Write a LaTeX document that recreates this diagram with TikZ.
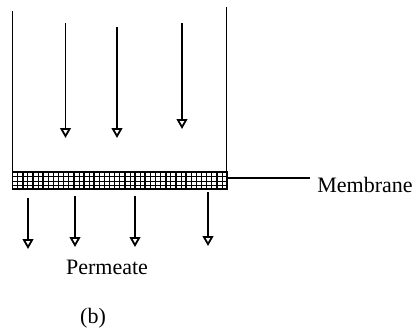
\documentclass[tikz,border=0pt]{standalone}
\usepackage{fontspec}
\setmainfont{Liberation Serif}
\usetikzlibrary{arrows.meta}
\begin{document}
\begin{tikzpicture}[x=0.5pt,y=-0.5pt,
  flow/.style={line width=0.75pt,-{Triangle[open,length=5pt,width=5.4pt,line width=0.9pt]}},
  wall/.style={line width=0.8pt},
  lbl/.style={font=\fontsize{11pt}{13pt}\selectfont,inner sep=0pt}]
\useasboundingbox (0,0) rectangle (418,333);
% walls
\coordinate (lt) at (12.5,11);
\coordinate (lb) at (12.5,172);
\coordinate (rt) at (226.5,7);
\coordinate (rb) at (226.5,172);
\draw[wall] (lt) -- (lb);
\draw[wall] (rt) -- (rb);
% membrane
\coordinate (m1) at (12.5,172);
\coordinate (m2) at (227,189);
\draw[line width=0.4pt] (12.5,176.5) -- (227,176.5) (12.5,181) -- (227,181) (12.5,185) -- (227,185);
\foreach \i in {0,...,41} {
  \draw[line width=0.35pt] ({12.5+\i*5.107},172) -- ({12.5+\i*5.107},189);
}
\foreach \i in {0,...,20} {
  \draw[line width=0.8pt] ({12.5+\i*10.214},172) -- ({12.5+\i*10.214},189);
}
\draw[line width=0.9pt] (m1) rectangle (m2);
% membrane label
\coordinate (ml) at (227,178);
\node[lbl,anchor=base west] (mem) at (317,192) {Membrane};
\draw[line width=0.7pt] (ml) -- (310,178);
% top arrows
\coordinate (a1s) at (65.5,23); \coordinate (a1e) at (65.5,138);
\coordinate (a2s) at (117,27);  \coordinate (a2e) at (117,138);
\coordinate (a3s) at (182,23);  \coordinate (a3e) at (182,129);
\draw[flow] (a1s) -- (a1e);
\draw[flow] (a2s) -- (a2e);
\draw[flow] (a3s) -- (a3e);
% bottom arrows
\coordinate (b1s) at (28,198);  \coordinate (b1e) at (28,249);
\coordinate (b2s) at (75,196);  \coordinate (b2e) at (75,247);
\coordinate (b3s) at (135,196); \coordinate (b3e) at (135,247);
\coordinate (b4s) at (208,192); \coordinate (b4e) at (208,246);
\draw[flow] (b1s) -- (b1e);
\draw[flow] (b2s) -- (b2e);
\draw[flow] (b3s) -- (b3e);
\draw[flow] (b4s) -- (b4e);
% labels
\node[lbl] (perm) at (107,267) {Permeate};
\node[lbl] (b) at (93,318) {(b)};
\end{tikzpicture}
\end{document}
